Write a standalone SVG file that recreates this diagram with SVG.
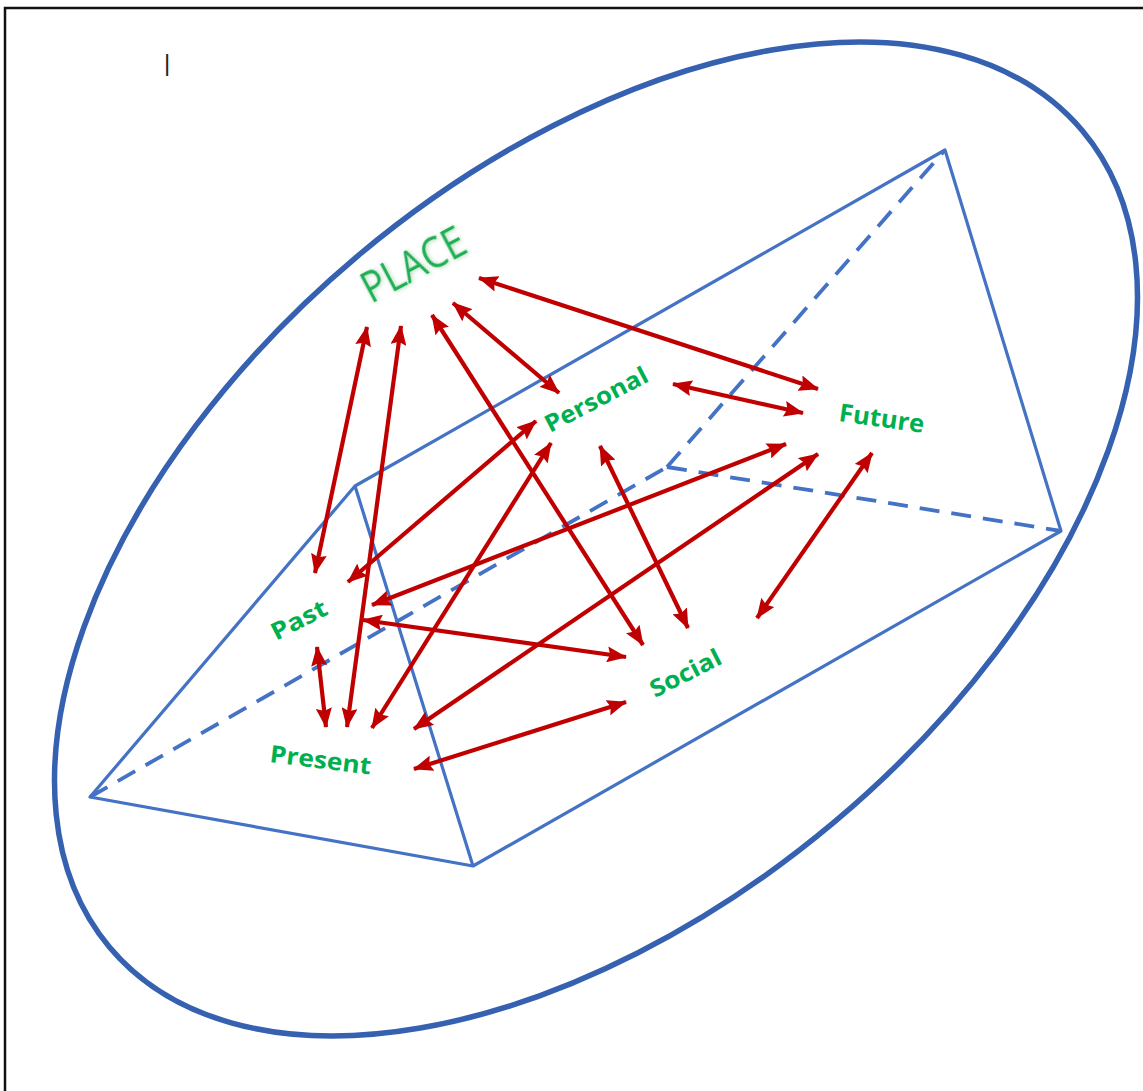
<svg xmlns="http://www.w3.org/2000/svg" width="1143" height="1091" viewBox="0 0 1143 1091">
  <defs>
    <marker id="ah" viewBox="0 0 20 16" refX="19" refY="8" markerWidth="20" markerHeight="16" markerUnits="userSpaceOnUse" orient="auto-start-reverse">
      <path d="M0,0 L20,8 L0,16 L3,8 z" fill="#C00000"/>
    </marker>
    <filter id="glow" x="-20%" y="-40%" width="140%" height="180%">
      <feGaussianBlur in="SourceAlpha" stdDeviation="2"/>
      <feOffset dx="1" dy="1" result="b"/>
      <feFlood flood-color="#7fbf8f" flood-opacity="0.6"/>
      <feComposite in2="b" operator="in"/>
      <feMerge><feMergeNode/><feMergeNode in="SourceGraphic"/></feMerge>
    </filter>
  </defs>
  <style>
    .solid { fill: none; stroke: #4472C4; stroke-width: 3.2; stroke-linejoin: round; }
    .dash { fill: none; stroke: #4472C4; stroke-width: 3.8; stroke-dasharray: 20 12; }
    .arr { fill: none; stroke: #C00000; stroke-width: 4.2; marker-start: url(#ah); marker-end: url(#ah); }
    .lbl { font-family: "Open Sans", Lato, "Liberation Sans", sans-serif; font-weight: 700; fill: #00B050; }
    .place { font-family: "Open Sans", Lato, "Liberation Sans", sans-serif; font-weight: 400; fill: #1FB055; }
  </style>
  <rect x="0" y="0" width="1143" height="1091" fill="#ffffff"/>
  <path d="M5,1091 V8 H1143" fill="none" stroke="#111" stroke-width="2.5"/>
  <text x="164" y="71" font-family="Liberation Sans, sans-serif" font-size="24" fill="#222">|</text>

  <g id="ellipse">
    <ellipse cx="596" cy="539" rx="635" ry="370" transform="rotate(-40 596 539)" fill="none" stroke="#3561B0" stroke-width="5.5"/>
  </g>

  <g id="prism">
    <path class="dash" d="M90,797 L667,467 M667,467 L945,150 M667,467 L1061,531"/>
    <path class="solid" d="M90,797 L473,866 L355,486 Z M355,486 L945,150 L1061,531 L473,866"/>
  </g>

  <g id="connectors">
    <line class="arr" x1="367" y1="327" x2="315" y2="573"/>
    <line class="arr" x1="401" y1="326" x2="347" y2="727"/>
    <line class="arr" x1="432" y1="315" x2="643" y2="645"/>
    <line class="arr" x1="453" y1="303" x2="559" y2="393"/>
    <line class="arr" x1="479" y1="278" x2="818" y2="389"/>
    <line class="arr" x1="673" y1="384" x2="803" y2="413"/>
    <line class="arr" x1="536" y1="421" x2="348" y2="582"/>
    <line class="arr" x1="551" y1="443" x2="372" y2="728"/>
    <line class="arr" x1="600" y1="446" x2="688" y2="628"/>
    <line class="arr" x1="786" y1="444" x2="372" y2="605"/>
    <line class="arr" x1="818" y1="454" x2="414" y2="729"/>
    <line class="arr" x1="872" y1="453" x2="757" y2="618"/>
    <line class="arr" x1="363" y1="620" x2="626" y2="657"/>
    <line class="arr" x1="317" y1="647" x2="326" y2="727"/>
    <line class="arr" x1="414" y1="769" x2="626" y2="702"/>
  </g>

  <g id="node-place">
    <text class="place" font-size="43" transform="translate(371,304) rotate(-28)" textLength="112" lengthAdjust="spacingAndGlyphs" filter="url(#glow)">PLACE</text>
  </g>
  <g id="node-personal">
    <text class="lbl" font-size="24" transform="translate(550,433) rotate(-27.5)" textLength="113" lengthAdjust="spacingAndGlyphs">Personal</text>
  </g>
  <g id="node-future">
    <text class="lbl" font-size="25" transform="translate(838,421) rotate(8)" textLength="86" lengthAdjust="spacingAndGlyphs">Future</text>
  </g>
  <g id="node-past">
    <text class="lbl" font-size="24" transform="translate(276,641) rotate(-27)" textLength="60" lengthAdjust="spacingAndGlyphs">Past</text>
  </g>
  <g id="node-present">
    <text class="lbl" font-size="24" transform="translate(269,762) rotate(7)" textLength="102" lengthAdjust="spacingAndGlyphs">Present</text>
  </g>
  <g id="node-social">
    <text class="lbl" font-size="24" transform="translate(655,698) rotate(-27)" textLength="77" lengthAdjust="spacingAndGlyphs">Social</text>
  </g>
</svg>
